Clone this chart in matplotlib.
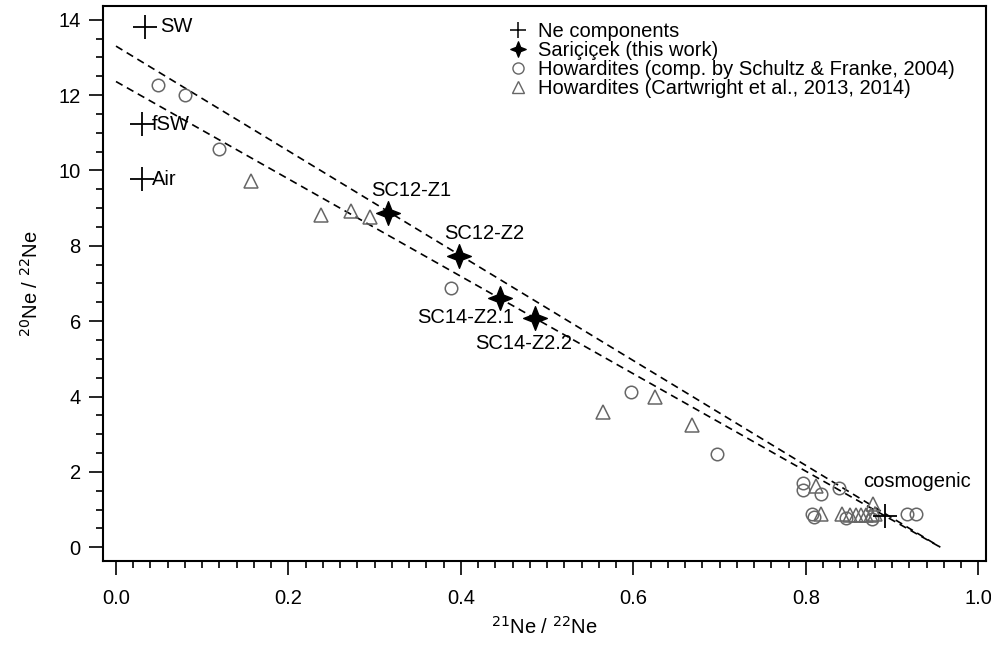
import numpy as np
import matplotlib
matplotlib.use("Agg")
import matplotlib.pyplot as plt
from matplotlib.path import Path
from matplotlib.ticker import MultipleLocator, FormatStrFormatter

plt.rcParams['font.family'] = ['Liberation Sans', 'DejaVu Sans']

# Ne components (SW, fSW, Air, cosmogenic)
comp_names = ["SW", "fSW", "Air", "cosmogenic"]
comp_x = [0.034, 0.030, 0.030, 0.892]
comp_y = [13.81, 11.22, 9.77, 0.82]

# Sariçiçek (this work)
sc_names = ["SC12-Z1", "SC12-Z2", "SC14-Z2.1", "SC14-Z2.2"]
sc_x = [0.316, 0.398, 0.445, 0.486]
sc_y = [8.87, 7.73, 6.62, 6.08]

# Howardites (comp. by Schultz & Franke, 2004)
hs_x = [0.049, 0.080, 0.119, 0.388, 0.597, 0.697, 0.797, 0.797, 0.818, 0.838,
        0.807, 0.810, 0.847, 0.877, 0.917, 0.928]
hs_y = [12.28, 12.01, 10.58, 6.89, 4.13, 2.48, 1.70, 1.52, 1.40, 1.58,
        0.88, 0.80, 0.78, 0.75, 0.88, 0.87]

# Howardites (Cartwright et al., 2013, 2014)
hc_x = [0.157, 0.238, 0.272, 0.294, 0.565, 0.625, 0.668, 0.812, 0.818,
        0.842, 0.851, 0.858, 0.864, 0.870, 0.876, 0.878, 0.880]
hc_y = [9.72, 8.82, 8.93, 8.77, 3.59, 3.98, 3.24, 1.63, 0.87,
        0.87, 0.85, 0.86, 0.85, 0.86, 0.85, 1.14, 0.87]

# mixing lines (intercept at 21Ne/22Ne = 0 and end point)
line_x = [0.0, 0.956]
line_upper_y = [13.30, 0.0]
line_lower_y = [12.36, 0.0]

# label positions
comp_lbl_x = [0.051, 0.041, 0.042, 0.867]
comp_lbl_y = [13.81, 11.22, 9.77, 1.75]
sc_lbl_x = [0.296, 0.380, 0.462, 0.417]
sc_lbl_y = [9.47, 8.33, 6.10, 5.40]
sc_lbl_ha = ["left", "left", "right", "left"]

a = 0.28
star = Path([(0, 1), (a, a), (1, 0), (a, -a), (0, -1), (-a, -a), (-1, 0), (-a, a), (0, 1)],
            [Path.MOVETO] + [Path.LINETO] * 7 + [Path.CLOSEPOLY])

fs = 14.5

fig = plt.figure(figsize=(9.91, 6.45), dpi=100)
ax = fig.add_axes([0.104, 0.130, 0.891, 0.861])

ax.plot(line_x, line_upper_y, color="black", lw=1.2, linestyle=(0, (4.5, 3)), zorder=1)
ax.plot(line_x, line_lower_y, color="black", lw=1.2, linestyle=(0, (4.5, 3)), zorder=1)

ax.plot(hs_x, hs_y, linestyle="none", marker="o", ms=9, mfc="none", mec="#666666", mew=1.1,
        zorder=2)
ax.plot(hc_x, hc_y, linestyle="none", marker="^", ms=10, mfc="none", mec="#666666", mew=1.1,
        zorder=2)
ax.plot(comp_x, comp_y, linestyle="none", marker="+", ms=17, mec="black", mew=1.3, zorder=3)
ax.plot(sc_x, sc_y, linestyle="none", marker=star, ms=17, mfc="black", mec="black", zorder=3)

for name, x, y in zip(comp_names, comp_lbl_x, comp_lbl_y):
    ax.text(x, y, name, ha="left", va="center", fontsize=fs)
for name, x, y, ha in zip(sc_names, sc_lbl_x, sc_lbl_y, sc_lbl_ha):
    ax.text(x, y, name, ha=ha, va="center", fontsize=fs)

# legend handles
h1, = ax.plot([], [], linestyle="none", marker="+", ms=11, mec="black", mew=1.1)
h2, = ax.plot([], [], linestyle="none", marker=star, ms=11, mfc="black", mec="black")
h3, = ax.plot([], [], linestyle="none", marker="o", ms=8, mfc="none", mec="#666666", mew=1.0)
h4, = ax.plot([], [], linestyle="none", marker="^", ms=9, mfc="none", mec="#666666", mew=1.0)
ax.legend([h1, h2, h3, h4],
          ["Ne components", "Sariçiçek (this work)",
           "Howardites (comp. by Schultz & Franke, 2004)",
           "Howardites (Cartwright et al., 2013, 2014)"],
          loc="upper left", bbox_to_anchor=(0.44, 1.0), frameon=False, fontsize=fs,
          handlelength=1.0, handletextpad=0.5, labelspacing=0.0, borderpad=0.3)

ax.set_xlim(-0.015, 1.009)
ax.set_ylim(-0.37, 14.37)
ax.xaxis.set_major_locator(MultipleLocator(0.2))
ax.xaxis.set_minor_locator(MultipleLocator(0.02))
ax.xaxis.set_major_formatter(FormatStrFormatter("%.1f"))
ax.yaxis.set_major_locator(MultipleLocator(2))
ax.yaxis.set_minor_locator(MultipleLocator(0.5))
ax.tick_params(which="major", length=10, width=1.2, labelsize=fs, pad=6)
ax.tick_params(axis="x", which="major", pad=10)
ax.tick_params(which="minor", length=5, width=1.2)
for sp in ax.spines.values():
    sp.set_linewidth(1.5)

ax.set_xlabel(r"$^{21}$Ne / $^{22}$Ne", fontsize=fs, labelpad=6)
ax.set_ylabel(r"$^{20}$Ne / $^{22}$Ne", fontsize=fs, labelpad=12)

fig.savefig("out.png", dpi=100)
